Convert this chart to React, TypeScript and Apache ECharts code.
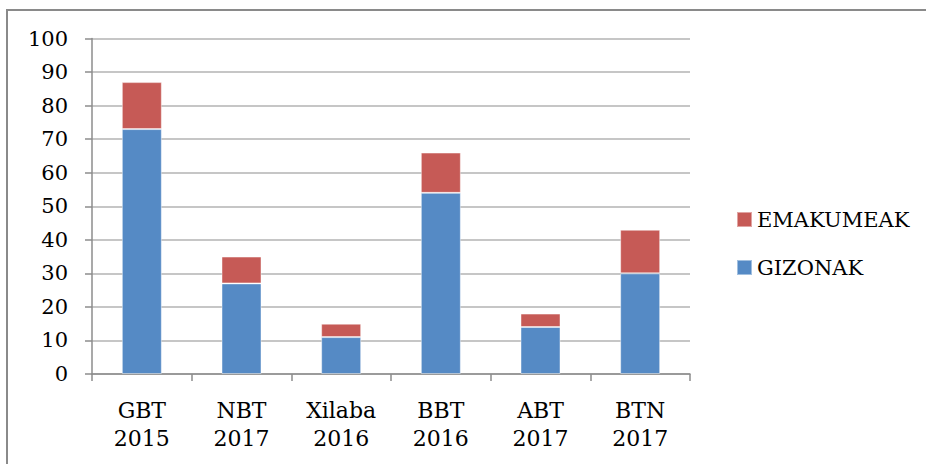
import React, { useEffect, useRef } from "react";
import * as echarts from "echarts";

const categories = ["GBT\n2015", "NBT\n2017", "Xilaba\n2016", "BBT\n2016", "ABT\n2017", "BTN\n2017"];
const gizonak = [73, 27, 11, 54, 14, 30];
const emakumeak = [14, 8, 4, 12, 4, 13];
const seriesNames = ["GIZONAK", "EMAKUMEAK"];

const FONT = "DejaVu Serif";

export default function App() {
  const ref = useRef<HTMLDivElement>(null);
  useEffect(() => {
    if (!ref.current) return;
    const chart = echarts.init(ref.current, null, { renderer: "svg" });
    chart.setOption({
      animation: false,
      backgroundColor: "#ffffff",
      graphic: [
        {
          type: "rect",
          shape: { x: 7, y: 10, width: 960, height: 500 },
          style: { fill: "none", stroke: "#8a8a8a", lineWidth: 2 },
          silent: true,
        },
      ],
      grid: { left: 92, right: 236, top: 38.5, bottom: 90 },
      legend: {
        orient: "vertical",
        left: 731,
        top: 204,
        itemWidth: 15,
        itemHeight: 15,
        itemGap: 27,
        icon: "rect",
        data: ["EMAKUMEAK", "GIZONAK"],
        textStyle: { fontFamily: FONT, fontSize: 21, color: "#000", padding: [0, 0, 0, 0] },
      },
      xAxis: {
        type: "category",
        data: categories,
        axisLine: { lineStyle: { color: "#8c8c8c", width: 1.5 } },
        axisTick: { show: true, length: 7, alignWithLabel: false, lineStyle: { color: "#8c8c8c", width: 1.5 } },
        axisLabel: {
          fontFamily: FONT,
          fontSize: 22,
          color: "#000",
          lineHeight: 28,
          margin: 22,
          interval: 0,
        },
      },
      yAxis: {
        type: "value",
        min: 0,
        max: 100,
        interval: 10,
        axisLine: { show: true, lineStyle: { color: "#8c8c8c", width: 1.5 } },
        axisTick: { show: true, length: 7, lineStyle: { color: "#8c8c8c", width: 1.5 } },
        splitLine: { lineStyle: { color: "#b3b3b3", width: 1.5 } },
        axisLabel: { fontFamily: FONT, fontSize: 21, color: "#000", margin: 24 },
      },
      series: [
        {
          name: seriesNames[0],
          type: "bar",
          stack: "total",
          data: gizonak,
          barWidth: 40,
          itemStyle: { color: "#558AC5", borderColor: "rgba(255,255,255,0.45)", borderWidth: 1 },
        },
        {
          name: seriesNames[1],
          type: "bar",
          stack: "total",
          data: emakumeak,
          barWidth: 40,
          itemStyle: { color: "#C65A56", borderColor: "rgba(255,255,255,0.45)", borderWidth: 1 },
        },
      ],
    });
    return () => chart.dispose();
  }, []);
  return (
    <div
      ref={ref}
      style={{ position: "fixed", left: 0, top: 0, width: 926, height: 464 }}
    />
  );
}
